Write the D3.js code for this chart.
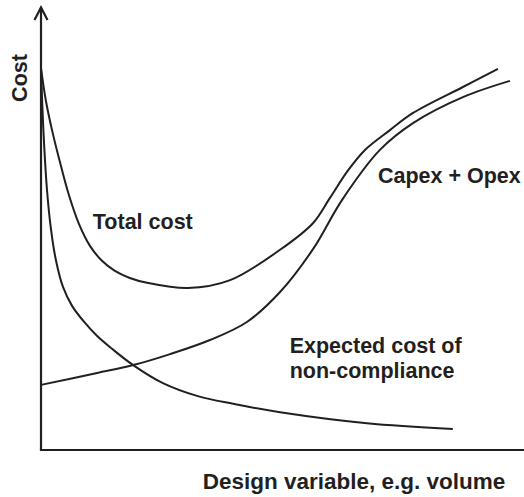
<!DOCTYPE html>
<html>
<head>
<meta charset="utf-8">
<script src="https://cdn.jsdelivr.net/npm/d3@7"></script>
<style>
  html, body { margin: 0; padding: 0; background: #fff; }
  svg text { font-family: "Liberation Sans", Arial, Helvetica, sans-serif; font-weight: bold; fill: #231f20; }
</style>
</head>
<body>
<div id="chart"></div>
<script>
// design variable (x) and cost (y), both on a 0-100 schematic scale
const totalX = [0, 1.0, 2.3, 4.0, 5.8, 7.9, 10.2, 12.7, 15.4, 18.5, 22.1, 30.6, 39.4, 49.8, 56.7, 60.2, 64.0, 67.5, 72.7, 77.5, 87.9, 95.2];
const totalY = [86.8, 79.5, 72.7, 65.2, 58.0, 51.4, 46.4, 43.0, 40.7, 39.1, 38.0, 36.8, 38.6, 45.5, 51.6, 57.3, 63.6, 68.2, 72.7, 76.6, 82.5, 86.6];

const capexX = [0, 11.7, 19.2, 26.9, 35.2, 42.9, 49.8, 56.7, 62.7, 70.6, 77.5, 87.9, 97.7];
const capexY = [14.8, 17.5, 19.3, 21.8, 25.0, 29.1, 35.9, 45.7, 56.8, 68.2, 74.3, 80.2, 83.9];

const complianceX = [0, 0.5, 1.25, 2.1, 3.1, 4.6, 6.5, 9.0, 11.7, 14.8, 19.2, 25.4, 32.5, 40.0, 49.8, 67.9, 85.8];
const complianceY = [86.8, 72.7, 59.1, 50.0, 43.2, 37.0, 32.7, 29.1, 25.9, 23.0, 19.3, 15.2, 12.3, 10.5, 8.6, 6.1, 4.8];

const seriesLabels = [
  { lines: ['Total cost'], x: 10.8, y: 50.2 },
  { lines: ['Capex + Opex'], x: 70.2, y: 60.7 },
  { lines: ['Expected cost of', 'non-compliance'], x: 51.8, y: 22.0 }
];
const xTitle = 'Design variable, e.g. volume';
const yTitle = 'Cost';

const width = 524;
const height = 497;
const ink = '#231f20';

const x = d3.scaleLinear().domain([0, 100]).range([41, 521]);
const y = d3.scaleLinear().domain([0, 100]).range([450, 10]);

const svg = d3.select('#chart')
  .append('svg')
  .attr('width', width)
  .attr('height', height);

// axes: plain lines, arrow on the cost axis
const axes = svg.append('g')
  .attr('fill', 'none')
  .attr('stroke', ink)
  .attr('stroke-width', 2.2);

axes.append('path')
  .attr('d', `M${x(0)},${y(0)}V7.5`);
axes.append('path')
  .attr('d', `M${x(0) - 6.5},20L${x(0)},7.5L${x(0) + 6.5},20`)
  .attr('stroke-linejoin', 'miter');
axes.append('path')
  .attr('d', `M${x(0) - 1.1},${y(0)}H${width}`);

const line = d3.line()
  .x((d) => x(d[0]))
  .y((d) => y(d[1]))
  .curve(d3.curveCatmullRom.alpha(0.5));

const curves = [
  d3.zip(totalX, totalY),
  d3.zip(capexX, capexY),
  d3.zip(complianceX, complianceY)
];

svg.append('g')
  .selectAll('path')
  .data(curves)
  .join('path')
  .attr('d', line)
  .attr('fill', 'none')
  .attr('stroke', ink)
  .attr('stroke-width', 2);

const labels = svg.append('g')
  .attr('font-size', 21.5);

labels.selectAll('text')
  .data(seriesLabels)
  .join('text')
  .attr('x', (d) => x(d.x))
  .attr('y', (d) => y(d.y))
  .selectAll('tspan')
  .data((d) => d.lines.map((t, i) => ({ t, i, x: x(d.x) })))
  .join('tspan')
  .attr('x', (d) => d.x)
  .attr('dy', (d) => (d.i === 0 ? 0 : 25))
  .text((d) => d.t);

labels.append('text')
  .attr('x', 354)
  .attr('y', 489)
  .attr('text-anchor', 'middle')
  .attr('font-size', 22.5)
  .text(xTitle);

labels.append('text')
  .attr('transform', 'translate(27,78) rotate(-90)')
  .attr('text-anchor', 'middle')
  .text(yTitle);
</script>
</body>
</html>
